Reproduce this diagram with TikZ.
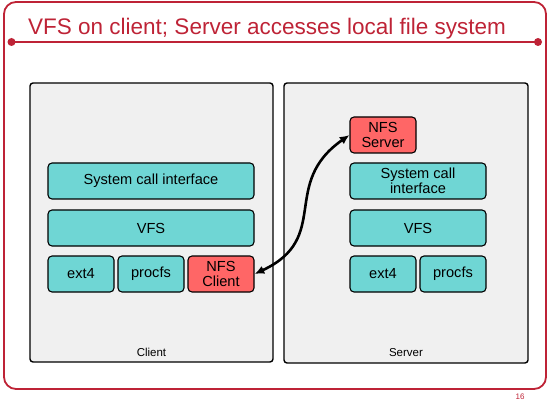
\documentclass[tikz,border=0pt]{standalone}
\usepackage{fontspec}
\setmainfont{Liberation Sans}
\usetikzlibrary{arrows.meta,positioning}
\definecolor{slidered}{HTML}{BE2336}
\definecolor{layerteal}{HTML}{6FD6D4}
\definecolor{nfsred}{HTML}{FF6666}
\definecolor{panelgray}{HTML}{F0F0F0}

\begin{document}
\begin{tikzpicture}[x=1pt, y=-1pt,
  panel/.style={rectangle, draw, line width=1.4pt, fill=panelgray, rounded corners=3pt},
  layer/.style={rectangle, draw, line width=1.1pt, fill=#1, rounded corners=4pt, align=center,
    font=\fontsize{14.6}{15}\selectfont, inner sep=0pt},
  layer/.default=layerteal,
  biarr/.style={{Latex[length=3.4mm,width=3mm]}-{Latex[length=3.4mm,width=3mm]}, line width=2.6pt}
]
  \useasboundingbox (0,0) rectangle (548,403);

  % slide frame and title bar
  \draw[slidered, line width=1.8pt, rounded corners=12pt] (4,2) rectangle (546,389);
  \draw[slidered, line width=2.4pt] (11.5,42) -- (538,42);
  \fill[slidered] (11.5,42) circle (4) (538,42) circle (4);
  \node[anchor=base west, inner sep=0pt, text=slidered, font=\fontsize{22.5}{24}\selectfont] (title) at (28,35)
    {VFS on client; Server accesses local file system};
  \node[anchor=base, inner sep=0pt, text=slidered, font=\fontsize{8}{9}\selectfont] (pageno) at (520,399) {16};

  % the two machines
  \node[panel, minimum width=243pt, minimum height=279pt] (client) at (151.5,222.5) {};
  \node[panel, minimum width=244pt, minimum height=280pt] (server) at (406,223) {};
  \node[font=\fontsize{11.5}{12}\selectfont, anchor=base] (clientlbl) at (151.5,356) {Client};
  \node[font=\fontsize{11.5}{12}\selectfont, anchor=base] (serverlbl) at (406,356) {Server};

  % client stack
  \node[layer, minimum width=206pt, minimum height=36pt] (csys) at (151,181) {System call interface};
  \node[layer, minimum width=206pt, minimum height=36pt] (cvfs) at (151,228) {VFS};
  \node[layer, minimum width=66pt, minimum height=36pt] (cext) at (81,274) {ext4};
  \node[layer, minimum width=66pt, minimum height=36pt] (cproc) at (151,274) {procfs};
  \node[layer=nfsred, minimum width=66pt, minimum height=36pt] (nfsc) at (221,274) {NFS\\Client};

  % server stack
  \node[layer=nfsred, minimum width=66pt, minimum height=36pt] (nfss) at (383,135) {NFS\\Server};
  \node[layer, minimum width=136pt, minimum height=36pt] (ssys) at (418,181) {System call\\interface};
  \node[layer, minimum width=136pt, minimum height=36pt] (svfs) at (418,228) {VFS};
  \node[layer, minimum width=66pt, minimum height=36pt] (sext) at (383,274) {ext4};
  \node[layer, minimum width=66pt, minimum height=36pt] (sproc) at (453,274) {procfs};

  \draw[biarr] (nfsc.east) to[out=25, in=215, looseness=1.3] (nfss.west);
\end{tikzpicture}
\end{document}
